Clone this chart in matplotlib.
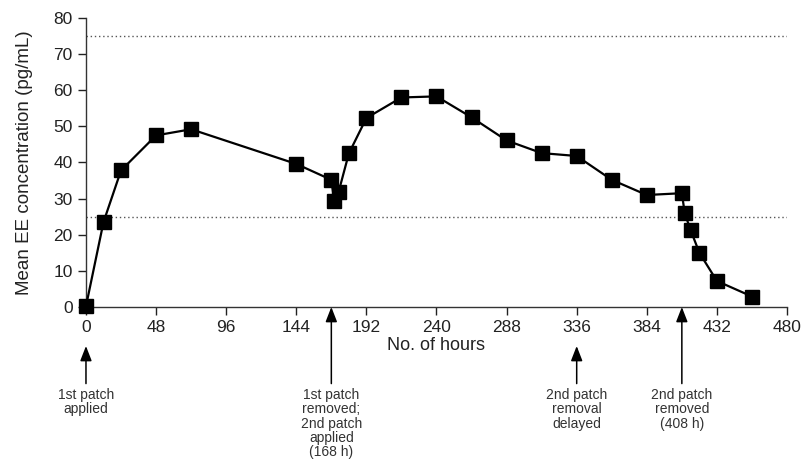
import matplotlib
matplotlib.use("Agg")
import matplotlib.pyplot as plt
import matplotlib.transforms as mtransforms

plt.rcParams['font.family'] = ['Liberation Sans', 'DejaVu Sans']

# Mean ethinyl estradiol concentration over time
hours = [0, 12, 24, 48, 72, 144, 168, 170, 173, 180, 192, 216,
         240, 264, 288, 312, 336, 360, 384, 408, 410, 414, 420, 432, 456]
conc = [0.2, 23.5, 37.8, 47.5, 49.2, 39.6, 35.2, 29.4, 31.9, 42.5, 52.3, 58.0,
        58.3, 52.5, 46.1, 42.6, 41.8, 35.2, 31.0, 31.5, 25.9, 21.3, 15.0, 7.2, 2.9]

x_ticks = [0, 48, 96, 144, 192, 240, 288, 336, 384, 432, 480]
y_ticks = [0, 10, 20, 30, 40, 50, 60, 70, 80]
ref_levels = [75, 25]

# Event annotations: (hour, label, arrow starts at axis?)
events = [
    (0, "1st patch\napplied", False),
    (168, "1st patch\nremoved;\n2nd patch\napplied\n(168 h)", True),
    (336, "2nd patch\nremoval\ndelayed", False),
    (408, "2nd patch\nremoved\n(408 h)", True),
]

fig = plt.figure(figsize=(8.02, 4.65), dpi=100)
ax = fig.add_axes([0.1072, 0.3398, 0.8741, 0.6215])

for lvl in ref_levels:
    ax.axhline(lvl, color='#555555', lw=1.0, ls=(0, (1, 2)), zorder=1)

ax.plot(hours, conc, color='black', lw=1.6, marker='s', markersize=10,
        markerfacecolor='black', markeredgecolor='black', clip_on=False, zorder=3)

ax.set_xlim(0, 480)
ax.set_ylim(0, 80)
ax.set_xticks(x_ticks)
ax.set_yticks(y_ticks)
ax.tick_params(direction='out', length=6, width=1, labelsize=12.5, colors='#222222', pad=3.5)
for side in ('top', 'right'):
    ax.spines[side].set_visible(False)
for side in ('left', 'bottom'):
    ax.spines[side].set_linewidth(1.0)
    ax.spines[side].set_color('#333333')

ax.set_xlabel("No. of hours", fontsize=13, color='#222222', labelpad=1)
ax.set_ylabel("Mean EE concentration (pg/mL)", fontsize=13.5, color='#222222', labelpad=15)

trans = mtransforms.blended_transform_factory(ax.transData, ax.transAxes)
for hr, label, from_axis in events:
    tip = 0.0 if from_axis else -0.135
    ax.annotate("", xy=(hr, tip), xycoords=trans, xytext=(hr, -0.265), textcoords=trans,
                arrowprops=dict(arrowstyle='-|>,head_length=0.9,head_width=0.35',
                                mutation_scale=10, color='black', lw=1.1,
                                shrinkA=0, shrinkB=0),
                annotation_clip=False)
    ax.text(hr, -0.28, label, transform=trans, ha='center', va='top',
            fontsize=10, color='#333333', linespacing=1.03)

fig.savefig("out.png", dpi=100)
